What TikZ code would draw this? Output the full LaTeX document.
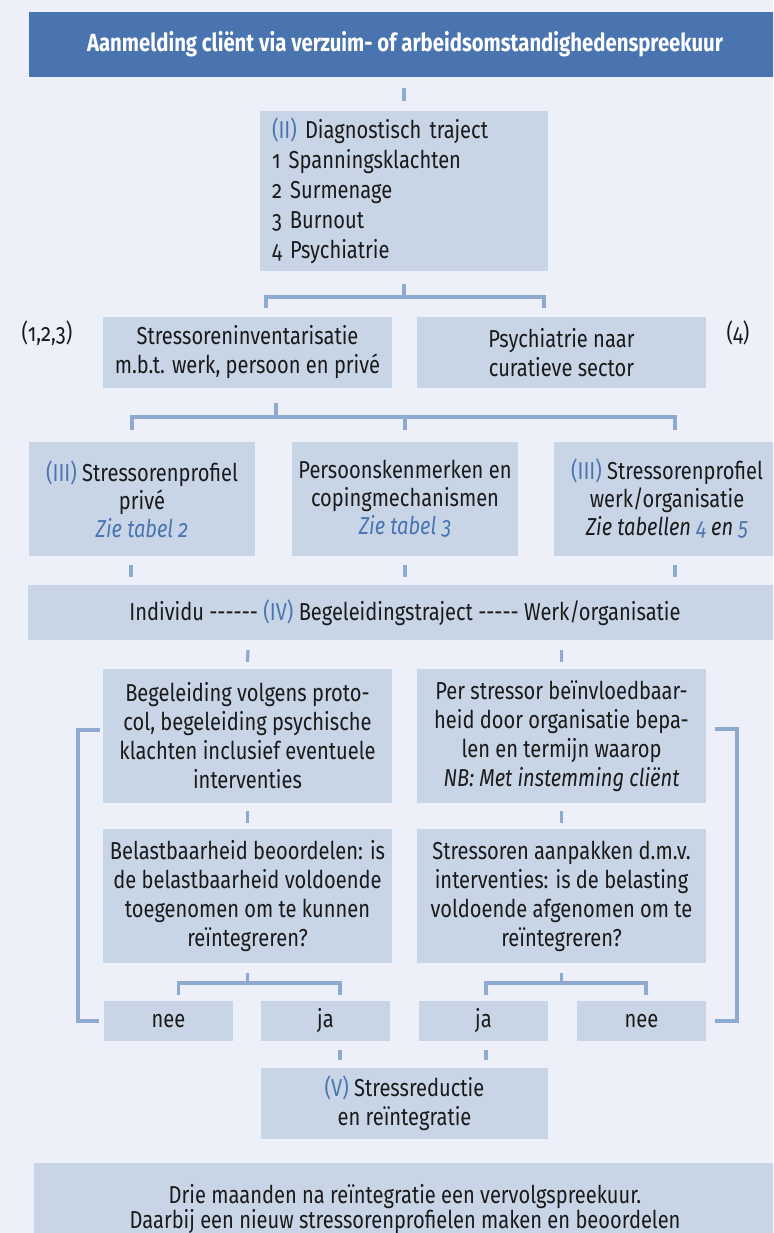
\documentclass[tikz,border=0pt]{standalone}
\usepackage{fontspec}
\setmainfont{Fira Sans}[FakeStretch=0.82, Numbers=OldStyle]
\definecolor{bgc}{HTML}{EDF0F8}
\definecolor{boxc}{HTML}{C8D5E7}
\definecolor{headc}{HTML}{4A74B0}
\definecolor{connc}{HTML}{8FAAD0}
\definecolor{labc}{HTML}{4A74B0}
\definecolor{txtc}{HTML}{1A1A1A}
\newcommand\fs{\fontsize{24.5}{29}\selectfont}
\newcommand\rn[1]{\textcolor{labc}{#1}}
\newcommand\hy{\mbox{-}}
\tikzset{
  box/.style={fill=boxc, inner sep=0pt, align=center, font=\fs, text=txtc},
  conn/.style={draw=connc, line width=3.2pt, line join=miter},
  lab/.style={inner sep=0pt, font=\fs, text=txtc},
}
\begin{document}
\begin{tikzpicture}[x=1pt,y=-1pt]
\useasboundingbox (0,0) rectangle (773,1233);
\clip (0,0) rectangle (773,1233);
\fill[bgc] (0,0) rectangle (773,1233);

% header
\node[fill=headc, minimum width=752pt, minimum height=65pt, inner sep=0pt, text=white,
      font=\fontsize{24.8}{29}\selectfont\bfseries] (head) at (405,44.5)
      {Aanmelding cliënt via verzuim- of arbeidsomstandighedenspreekuur};

% diagnostic
\node[box, minimum width=288pt, minimum height=160pt, align=left, text width=264pt,
      font=\fontsize{24.5}{30}\selectfont] (diag) at (404,191)
  {\rn{(II)} Diagnostisch traject\\1 Spanningsklachten\\2 Surmenage\\3 Burnout\\4 Psychiatrie};

% row A
\node[box, minimum width=289pt, minimum height=71pt] (inv) at (247.5,352.5)
  {Stressoreninventarisatie\\m.b.t. werk, persoon en privé};
\node[box, minimum width=289pt, minimum height=71pt] (psy) at (561.5,352.5)
  {Psychiatrie naar\\curatieve sector};
\node[lab] (l123) at (47,333) {(1,2,3)};
\node[lab] (l4) at (738,333) {(4)};

% row III
\node[box, minimum width=226pt, minimum height=114pt, font=\fontsize{24.5}{28}\selectfont] (prv) at (142,499)
  {\rn{(III)} Stressorenprofiel\\privé\\\textit{\rn{Zie tabel 2}}};
\node[box, minimum width=226pt, minimum height=114pt, font=\fontsize{24.5}{28}\selectfont] (pers) at (405,499)
  {Persoonskenmerken en\\copingmechanismen\\\textit{\rn{Zie tabel 3}}};
\node[box, minimum width=226pt, minimum height=114pt, font=\fontsize{24.5}{28}\selectfont] (werk) at (667,499)
  {\rn{(III)} Stressorenprofiel\\werk/organisatie\\\textit{Zie tabellen \rn{4} en \rn{5}}};

% IV band
\node[box, minimum width=754pt, minimum height=55pt] (beg) at (405,612.5)
  {Individu \hy\hy\hy\hy\hy\hy{} \rn{(IV)} Begeleidingstraject \hy\hy\hy\hy\hy{} Werk/organisatie};

% P boxes
\node[box, minimum width=289pt, minimum height=134pt] (p1) at (247.5,736)
  {Begeleiding volgens proto-\\col, begeleiding psychische\\klachten inclusief eventuele\\interventies};
\node[box, minimum width=289pt, minimum height=134pt] (p2) at (561.5,736)
  {Per stressor beïnvloedbaar-\\heid door organisatie bepa-\\len en termijn waarop\\\textit{NB: Met instemming cliënt}};

% Q boxes
\node[box, minimum width=289pt, minimum height=134pt] (q1) at (247.5,896)
  {Belastbaarheid beoordelen: is\\de belastbaarheid voldoende\\toegenomen om te kunnen\\reïntegreren?};
\node[box, minimum width=289pt, minimum height=134pt] (q2) at (561.5,896)
  {Stressoren aanpakken d.m.v.\\interventies: is de belasting\\voldoende afgenomen om te\\reïntegreren?};

% answers
\node[box, minimum width=129pt, minimum height=40pt] (nee1) at (168.5,1021) {nee};
\node[box, minimum width=129pt, minimum height=40pt] (ja1) at (325.5,1021) {ja};
\node[box, minimum width=129pt, minimum height=40pt] (ja2) at (483.5,1021) {ja};
\node[box, minimum width=129pt, minimum height=40pt] (nee2) at (641.5,1021) {nee};

% V
\node[box, minimum width=287pt, minimum height=71pt] (red) at (404.5,1103.5)
  {\rn{(V)} Stressreductie\\en reïntegratie};

% bottom
\node[box, minimum width=742pt, minimum height=82pt] (vv) at (405,1204) {};
\node[lab, align=center, font=\fontsize{24.5}{25}\selectfont] (vvt) at (405,1209)
  {Drie maanden na reïntegratie een vervolgspreekuur.\\Daarbij een nieuw stressorenprofielen maken en beoordelen};

% connectors
\draw[conn] (head.south -| diag.north) ++(0,11) coordinate (c1a) -- ([yshift=10pt]diag.north);

\coordinate (b1m) at (404,297);
\coordinate (b1l) at (266,297);
\coordinate (b1r) at (544,297);
\draw[conn] ([yshift=-13pt]diag.south) -- (b1m);
\draw[conn] (b1l |- inv.north) ++(0,-9) coordinate (b1le) -- (b1l) -- (b1r) -- (b1r |- b1le);

\coordinate (b2s) at (276,403);
\coordinate (b2m) at (276,417);
\coordinate (b2l) at (132,417);
\coordinate (b2c) at (405,417);
\coordinate (b2r) at (675,417);
\draw[conn] (b2s) -- (b2m);
\draw[conn] (b2l |- prv.north) ++(0,-12) coordinate (b2le) -- (b2l) -- (b2r) -- (b2r |- b2le);
\draw[conn] (b2c) -- (b2c |- b2le);

% ticks row III -> IV
\foreach \n/\xx in {prv/131, pers/405, werk/675}{
  \draw[conn] (\xx,565) -- (\xx,577);
}
% ticks IV -> P
\draw[conn] ([yshift=-10pt]beg.south -| p1.north) ++(0.5,0) -- ([yshift=7pt]p1.north);
\draw[conn] ([yshift=-10pt]beg.south -| p2.north) -- ([yshift=7pt]p2.north);
% ticks P -> Q
\draw[conn] ([yshift=-8pt]p1.south) -- ([yshift=6pt]q1.north);
\draw[conn] ([yshift=-8pt]p2.south) -- ([yshift=6pt]q2.north);

% answer brackets
\draw[conn] ([yshift=-10pt]q1.south) -- ++(0,10) coordinate (b3m);
\draw[conn] (178.5,995) -- (178.5,983) -- (340,983) -- (340,995);
\draw[conn] ([yshift=-10pt]q2.south) -- ++(0,10) coordinate (b4m);
\draw[conn] (486,995) -- (486,983) -- (646,983) -- (646,995);

% feedback loops
\coordinate (fl1) at (78,1021);
\coordinate (fl2) at (78,730);
\draw[conn] ([xshift=-5pt]nee1.west) -- (fl1) -- (fl2) -- (100,730);
\coordinate (fr1) at (737,1021);
\coordinate (fr2) at (737,729);
\draw[conn] ([xshift=9pt]nee2.east) -- (fr1) -- (fr2) -- (715,729);

% ticks ja -> V
\draw[conn] (340,1050) -- (340,1060);
\draw[conn] (486,1050) -- (486,1060);
\end{tikzpicture}
\end{document}
